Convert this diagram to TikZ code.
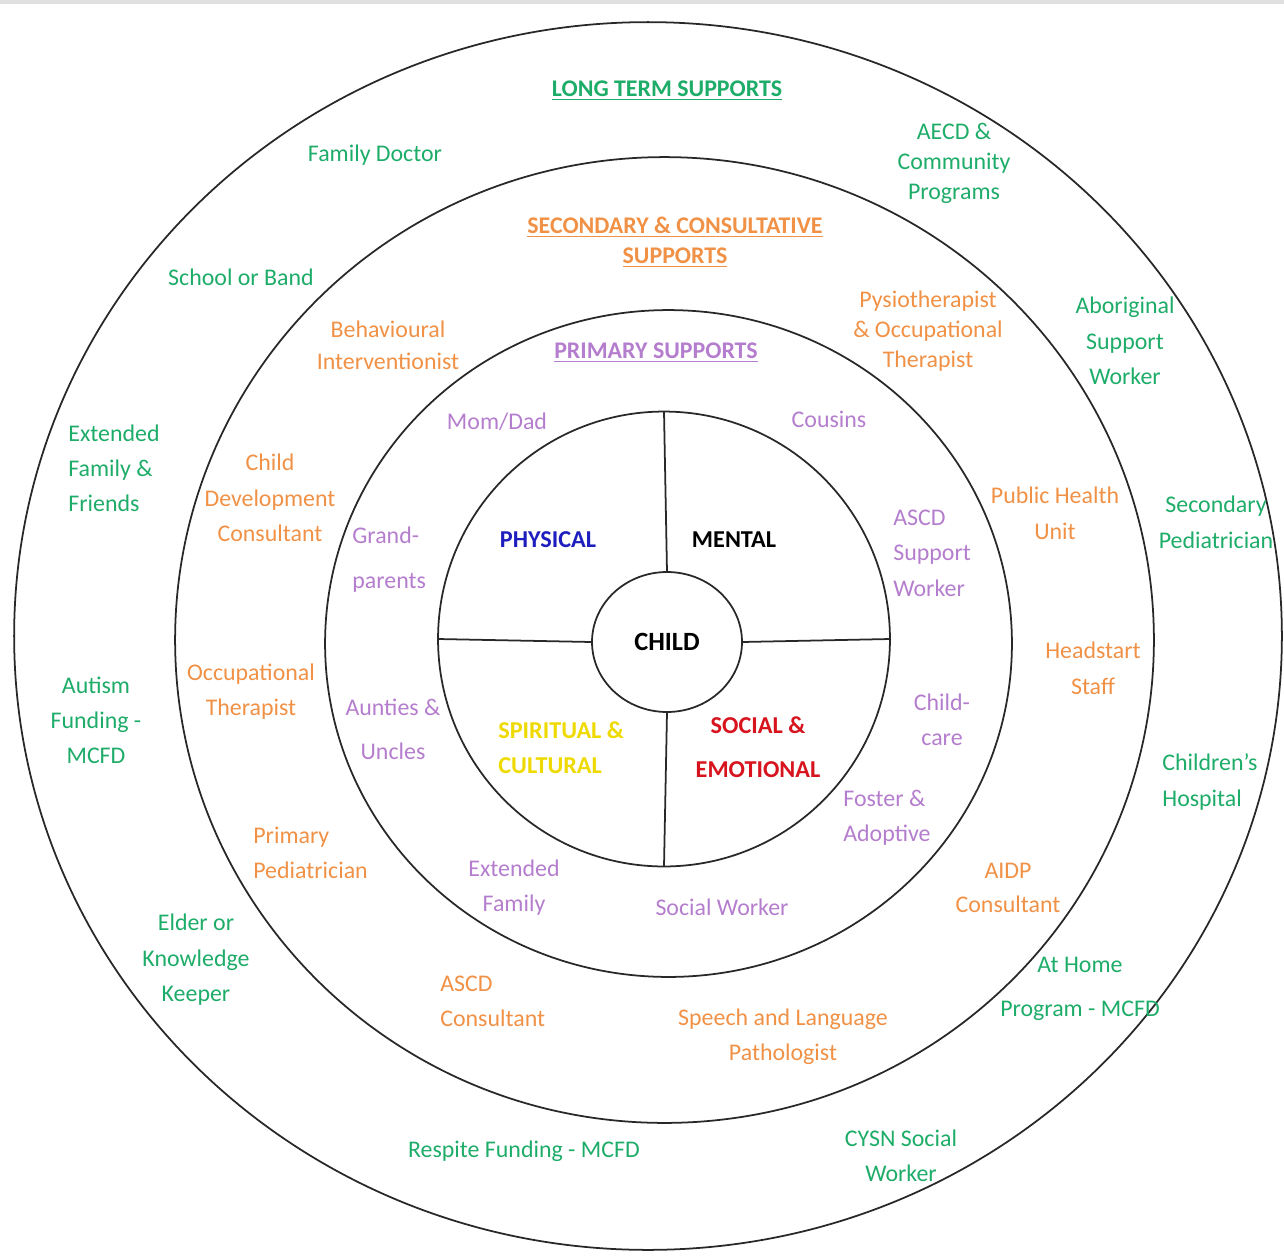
\documentclass[tikz,border=0pt]{standalone}
\usepackage{fontspec}
\setmainfont{Carlito}
\usetikzlibrary{shapes.geometric}
\definecolor{ltgreen}{RGB}{30,172,105}
\definecolor{secorange}{RGB}{240,145,70}
\definecolor{primpurple}{RGB}{180,125,205}
\definecolor{physblue}{RGB}{30,30,190}
\definecolor{spiryellow}{RGB}{238,218,0}
\definecolor{socred}{RGB}{215,20,30}
\definecolor{ringgray}{RGB}{40,40,40}
\begin{document}
\begin{tikzpicture}[x=0.02cm,y=-0.02cm,
  ring/.style={draw=ringgray, line width=1pt, ellipse, inner sep=0pt, outer sep=0pt},
  spoke/.style={draw=ringgray, line width=1pt},
  lbl/.style={align=center, inner sep=0pt, yshift=-0.05cm, font=\fontsize{13.6}{#1}\selectfont},
  lbl/.default=19.9,
  longlbl/.style={lbl=#1, text=ltgreen},
  longlbl/.default=19.9,
  seclbl/.style={lbl=#1, text=secorange},
  seclbl/.default=19.9,
  primlbl/.style={lbl=#1, text=primpurple},
  primlbl/.default=19.9,
  corelbl/.style={align=center, inner sep=0pt, yshift=-0.05cm, font=\fontsize{13.8}{#1}\selectfont\bfseries},
  corelbl/.default=19.9,
  leftal/.style={align=left, anchor=west}
]
\useasboundingbox (0,0) rectangle (1284,1258);
\fill[black!12] (0,0) rectangle (1284,4);

% rings
\node[ring, minimum width=25.36cm, minimum height=24.56cm] (outer) at (648,636) {};
\node[ring, minimum width=19.58cm, minimum height=19.32cm] (second) at (664.5,640) {};
\node[ring, minimum width=13.74cm, minimum height=13.34cm] (third) at (668.5,643.5) {};
\node[ring, minimum width=9.04cm, minimum height=9.1cm] (quad) at (664,639) {};
\node[ring, minimum width=3.0cm, minimum height=2.8cm, font=\fontsize{15}{18}\selectfont\bfseries] (child) at (667,642) {CHILD};

% spokes
\draw[spoke] (child.north) -- (quad.north);
\draw[spoke] (child.south) -- (quad.south);
\draw[spoke] (child.west) -- (quad.west);
\draw[spoke] (child.east) -- (quad.east);

% core labels
\node[corelbl, text=physblue] (physical) at (548,537) {PHYSICAL};
\node[corelbl, text=black] (mental) at (734,537) {MENTAL};
\node[corelbl=19.9, text=spiryellow, leftal] (spiritual) at (498,745.5) {SPIRITUAL \&\\CULTURAL};
\node[corelbl=25, text=socred] (social) at (758,745) {SOCIAL \&\\EMOTIONAL};

% primary supports
\node[primlbl, font=\fontsize{13.6}{17}\selectfont\bfseries] (primtitle) at (656,350) {\underline{PRIMARY SUPPORTS}};
\node[primlbl] (momdad) at (497,419) {Mom/Dad};
\node[primlbl] (cousins) at (829,417) {Cousins};
\node[primlbl=25.6, leftal] (grand) at (352,557.5) {Grand-\\parents};
\node[primlbl=20.2, leftal] (ascdsw) at (893,550.5) {ASCD\\Support\\Worker};
\node[primlbl=25] (aunties) at (393,727) {Aunties \&\\Uncles};
\node[primlbl=19.9] (childcare) at (942,717.5) {Child-\\care};
\node[primlbl=19.9, leftal] (foster) at (843,815.5) {Foster \&\\Adoptive};
\node[primlbl=19.9] (extfam) at (514,885.5) {Extended\\Family};
\node[primlbl] (socwork) at (722,905) {Social Worker};

% secondary & consultative supports
\node[seclbl=17.1, font=\fontsize{13.6}{17.1}\selectfont\bfseries] (sectitle) at (675,240) {\underline{SECONDARY \& CONSULTATIVE}\\\underline{SUPPORTS}};
\node[seclbl=18.2] (behav) at (388,343) {Behavioural\\Interventionist};
\node[seclbl=17.1] (physio) at (928,329) {Pysiotherapist\\\& Occupational\\Therapist};
\node[seclbl=20.2] (childdev) at (270,495.3) {Child\\Development\\Consultant};
\node[seclbl=20.5] (pubhealth) at (1055,511) {Public Health\\Unit};
\node[seclbl=19.9] (occther) at (251,689.5) {Occupational\\Therapist};
\node[seclbl=20.5] (headstart) at (1093,666) {Headstart\\Staff};
\node[seclbl=19.9, leftal] (primped) at (253,850.5) {Primary\\Pediatrician};
\node[seclbl=19.4] (aidp) at (1008,885) {AIDP\\Consultant};
\node[seclbl=19.9, leftal] (ascdcons) at (440,998.5) {ASCD\\Consultant};
\node[seclbl=19.9] (speech) at (783,1034.5) {Speech and Language\\Pathologist};

% long term supports
\node[longlbl, font=\fontsize{13.6}{17}\selectfont\bfseries] (longtitle) at (667,88) {\underline{LONG TERM SUPPORTS}};
\node[longlbl] (famdoc) at (375,153) {Family Doctor};
\node[longlbl=17.1] (aecd) at (954,161) {AECD \&\\Community\\Programs};
\node[longlbl] (school) at (241,275) {School or Band};
\node[longlbl=20.2] (aboriginal) at (1125,338.7) {Aboriginal\\Support\\Worker};
\node[longlbl=19.9, leftal] (extfriends) at (68,466) {Extended\\Family \&\\Friends};
\node[longlbl=20.5] (secped) at (1216,520) {Secondary\\Pediatrician};
\node[longlbl=19.9] (autism) at (96,718) {Autism\\Funding -\\MCFD};
\node[longlbl=20.5, leftal] (hospital) at (1162,779) {Children’s\\Hospital};
\node[longlbl=20.2] (elder) at (196,957.5) {Elder or\\Knowledge\\Keeper};
\node[longlbl=25] (athome) at (1080,986) {At Home\\Program - MCFD};
\node[longlbl] (respite) at (524,1149) {Respite Funding - MCFD};
\node[longlbl=19.9] (cysn) at (901,1153.5) {CYSN Social\\Worker};
\end{tikzpicture}
\end{document}
